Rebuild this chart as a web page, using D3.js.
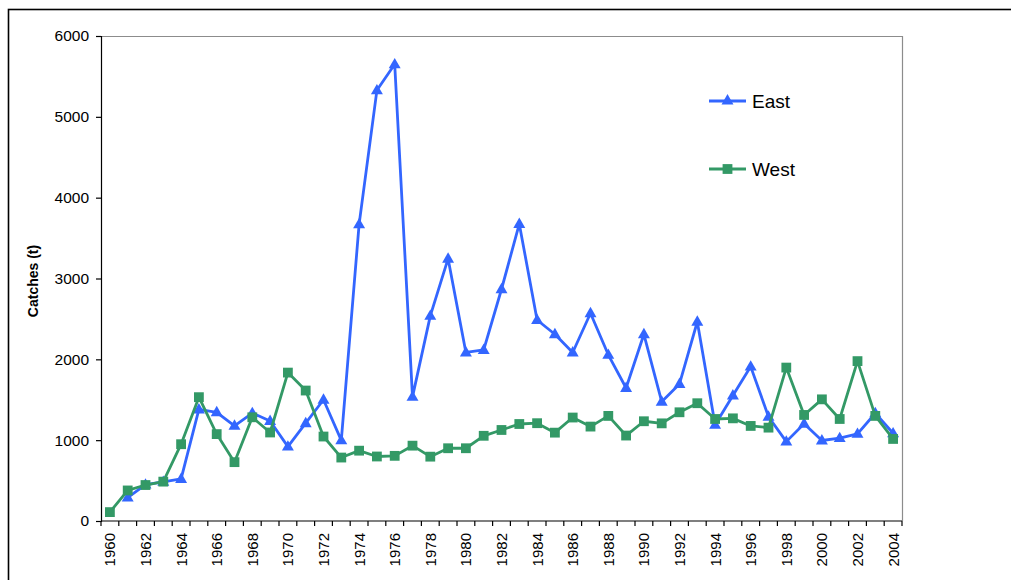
<!DOCTYPE html>
<html>
<head>
<meta charset="utf-8">
<script src="https://cdn.jsdelivr.net/npm/d3@7"></script>
<style>
  html, body { margin: 0; padding: 0; background: #fff; }
  svg { display: block; font-family: "Liberation Sans", Arial, sans-serif; }
</style>
</head>
<body>
<svg id="chart" width="1011" height="580"></svg>
<script>
// Annual catches (t), 1960–2004
const years = d3.range(1960, 2005);
const east = [null, 290, 450, 485, 520, 1380, 1345, 1178, 1335, 1238, 920, 1210, 1500, 997,
  3670, 5328, 5650, 1535, 2538, 3245, 2085, 2116, 2867, 3675, 2487, 2310, 2085, 2570, 2056,
  1645, 2310, 1476, 1695, 2465, 1190, 1553, 1910, 1290, 982, 1203, 996, 1025, 1078, 1333, 1085];
const west = [110, 378, 445, 487, 950, 1532, 1075, 728, 1283, 1095, 1836, 1614, 1045, 785,
  870, 798, 806, 932, 796, 900, 900, 1054, 1126, 1200, 1210, 1093, 1280, 1168, 1300,
  1057, 1234, 1208, 1345, 1457, 1262, 1270, 1176, 1155, 1898, 1312, 1505, 1262, 1978, 1300, 1015];
const yTicks = [0, 1000, 2000, 3000, 4000, 5000, 6000];
const xLabels = years.filter(y => y % 2 === 0);
const seriesNames = ["East", "West"];
const seriesColors = ["#3366ff", "#339966"];

const svg = d3.select("#chart");
const plot = { left: 101, top: 36, right: 902, bottom: 521 };

// outer chart frame
svg.append("rect")
  .attr("x", 8.5).attr("y", 9.5)
  .attr("width", 1020).attr("height", 600)
  .attr("fill", "none").attr("stroke", "#000").attr("stroke-width", 1.6);

const x = d3.scaleBand().domain(years).range([plot.left, plot.right]);
const y = d3.scaleLinear().domain([0, 6000]).range([plot.bottom, plot.top]);

// plot area border (top and right)
svg.append("path")
  .attr("d", `M${plot.left},${plot.top + 0.5}H${plot.right + 0.5}V${plot.bottom}`)
  .attr("fill", "none").attr("stroke", "#8c8c8c").attr("stroke-width", 1.2);

// y axis
const yAxis = svg.append("g")
  .attr("transform", `translate(${plot.left},0)`)
  .call(d3.axisLeft(y).tickValues(yTicks).tickSize(5).tickPadding(7).tickFormat(d3.format("d")));
yAxis.select(".domain").attr("stroke", "#000").attr("stroke-width", 1.2);
yAxis.selectAll(".tick line").attr("stroke", "#000").attr("stroke-width", 1.2);
yAxis.selectAll("text").attr("font-size", "15.5px").attr("fill", "#000")
  .attr("font-family", "Liberation Sans, Arial, sans-serif");

// x axis: tick marks between categories, labels every second year
const xAxisG = svg.append("g").attr("transform", `translate(0,${plot.bottom})`);
xAxisG.append("line")
  .attr("x1", plot.left).attr("x2", plot.right)
  .attr("stroke", "#000").attr("stroke-width", 1.2);
const boundaries = years.map(d => x(d)).concat([x(years[years.length - 1]) + x.bandwidth()]);
xAxisG.selectAll("line.tk").data(boundaries).join("line")
  .attr("class", "tk")
  .attr("x1", d => d).attr("x2", d => d)
  .attr("y1", 0).attr("y2", 5)
  .attr("stroke", "#000").attr("stroke-width", 1.2);
xAxisG.selectAll("text").data(xLabels).join("text")
  .attr("transform", d => `translate(${x(d) + x.bandwidth() / 2 + 5.5},12) rotate(-90)`)
  .attr("text-anchor", "end")
  .attr("font-size", "15px")
  .attr("fill", "#000")
  .text(d => d);

// y axis title
svg.append("text")
  .attr("transform", "translate(38,281) rotate(-90)")
  .attr("text-anchor", "middle")
  .attr("font-size", "14px").attr("font-weight", "bold")
  .text("Catches (t)");

const cx = d => x(d) + x.bandwidth() / 2;
const triangle = d3.symbol().type(d3.symbolTriangle).size(62);
const square = d3.symbol().type(d3.symbolSquare).size(96);

function drawSeries(values, color, sym) {
  const pts = years.map((yr, i) => ({ yr, v: values[i] })).filter(p => p.v != null);
  svg.append("path")
    .datum(pts)
    .attr("fill", "none").attr("stroke", color).attr("stroke-width", 2.8)
    .attr("stroke-linejoin", "round")
    .attr("d", d3.line().x(p => cx(p.yr)).y(p => y(p.v)));
  svg.append("g").selectAll("path").data(pts).join("path")
    .attr("transform", p => `translate(${cx(p.yr)},${y(p.v) + (sym === triangle ? 0.5 : 0)})`)
    .attr("d", sym)
    .attr("fill", color);
}
drawSeries(east, seriesColors[0], triangle);
drawSeries(west, seriesColors[1], square);

// legend
const legend = svg.append("g");
const legendRows = [{ name: seriesNames[0], color: seriesColors[0], sym: triangle, ly: 101 },
                    { name: seriesNames[1], color: seriesColors[1], sym: square, ly: 169 }];
legendRows.forEach(r => {
  legend.append("line")
    .attr("x1", 709).attr("x2", 746).attr("y1", r.ly).attr("y2", r.ly)
    .attr("stroke", r.color).attr("stroke-width", 2.8);
  legend.append("path")
    .attr("transform", `translate(727.5,${r.ly})`)
    .attr("d", r.sym).attr("fill", r.color);
  legend.append("text")
    .attr("x", 752).attr("y", r.ly + 7)
    .attr("font-size", "19px").attr("fill", "#000")
    .text(r.name);
});
</script>
</body>
</html>
